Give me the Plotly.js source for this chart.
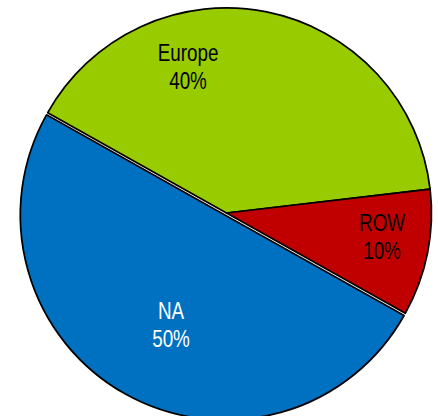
<!DOCTYPE html>
<html>
<head>
<meta charset="utf-8">
<script src="https://cdn.plot.ly/plotly-3.0.1.min.js"></script>
<style>
html, body { margin: 0; padding: 0; overflow: hidden; background: #fff; }
#chart { width: 438px; height: 430px; }
</style>
</head>
<body>
<div id="chart"></div>
<script>
const regions = ["Europe", "ROW", "NA"];
const shares = [40, 10, 50];
const sliceColors = ["#99CC00", "#C00000", "#0070C0"];
const labelColors = ["#000000", "#000000", "#FFFFFF"];
const pulls = [0, 0, 0.012];

const W = 438, H = 430;
const cx = 226.5, cy = 213, r = 205;
const half = r * (1 + Math.max(...pulls));
// label line centres (pixels) — layout only: [x, y of name line, y of percent line]
const labelPos = [[188, 53, 81], [382, 223, 251], [171, 311, 339]];

const trace = {
  type: "pie",
  labels: regions,
  values: shares,
  sort: false,
  direction: "clockwise",
  rotation: -60.7,
  pull: pulls,
  marker: { colors: sliceColors, line: { color: "#000000", width: 1.75 } },
  textinfo: "none",
  hoverinfo: "none",
  domain: {
    x: [(cx - half) / W, (cx + half) / W],
    y: [(H - (cy + half)) / H, (H - (cy - half)) / H]
  }
};

const annotations = [];
regions.forEach((name, i) => {
  const lines = [name, shares[i] + "%"];
  lines.forEach((txt, j) => {
    annotations.push({
      xref: "paper", yref: "paper",
      x: labelPos[i][0] / W, y: (H - labelPos[i][1 + j]) / H,
      xanchor: "center", yanchor: "middle",
      text: txt,
      showarrow: false,
      font: { family: "Liberation Sans, Arial, sans-serif", size: 23, color: labelColors[i] }
    });
  });
});

Plotly.newPlot("chart", [trace], {
  width: W, height: H,
  margin: { l: 0, r: 0, t: 0, b: 0 },
  showlegend: false,
  paper_bgcolor: "#ffffff",
  annotations: annotations
}, { displayModeBar: false, staticPlot: true }).then(() => {
  document.querySelectorAll("#chart text.annotation-text").forEach(t => {
    t.style.transformBox = "fill-box";
    t.style.transformOrigin = "center";
    t.style.transform = "scaleX(0.82)";
  });
});
</script>
</body>
</html>
